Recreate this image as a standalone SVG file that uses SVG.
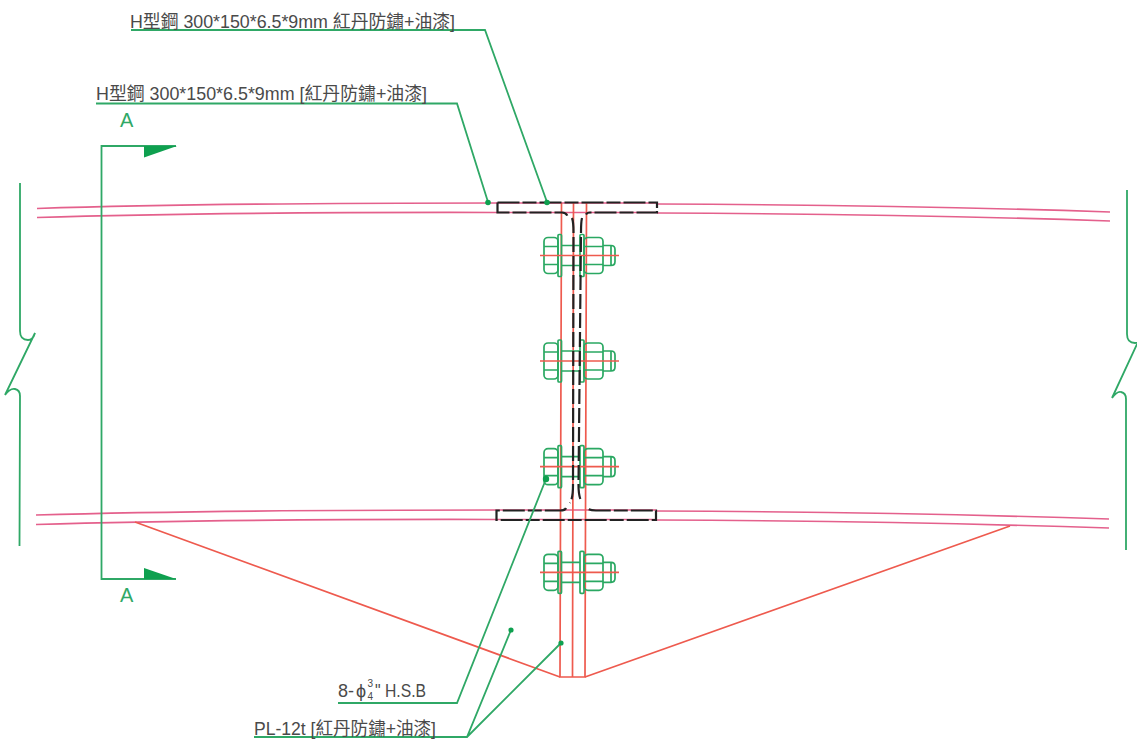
<svg xmlns="http://www.w3.org/2000/svg" width="1137" height="748" viewBox="0 0 1137 748">
<defs>
<style>
.g{fill:none;stroke:#2fa866;stroke-width:1.8}
.gt{fill:none;stroke:#2aa862;stroke-width:1.7;stroke-linejoin:round}
.r{fill:none;stroke:#ee5a4e;stroke-width:1.7}
.p{fill:none;stroke:#e4608c;stroke-width:1.7}
.k{fill:none;stroke:#222;stroke-width:2.2}
.d{stroke-dasharray:22 3 14 3}
.wd{stroke-dasharray:15 4}
.t{font-family:"Liberation Sans","Noto Sans CJK TC",sans-serif;font-size:18px;fill:#4a4a4a}
.s{font-size:10px}
.a{font-family:"Liberation Sans",sans-serif;font-size:20px;fill:#2fa866}
.dot{fill:#0ea04f}
.w{fill:#0ea04f}
</style>
<g id="bolt">
<rect class="gt" x="544" y="-18" width="14" height="36" rx="4"/>
<path class="gt" d="M544-9H558M544 9H558"/>
<rect class="gt" x="558" y="-21" width="3.500" height="42" rx="1"/>
<path class="gt" d="M561.500-10H580M561.500 10H580"/>
<rect class="gt" x="580" y="-21" width="4" height="42" rx="1"/>
<rect class="gt" x="584" y="-18" width="19" height="36" rx="4"/>
<path class="gt" d="M584-9H603M584 9H603"/>
<path class="gt" d="M603-10H611Q615-10 615-6V6Q615 10 611 10H603M611-10V10"/>
<path class="r" d="M540 0H619"/>
</g>
</defs>
<rect width="1137" height="748" fill="#fff"/>
<g id="beam-top">
<path class="p" d="M37 208.500Q210 203 497 203M37 217.500Q210 212 497 212.500"/>
<path class="p" d="M657 204Q900 205 1110 212M657 213Q900 214 1110 221"/>
<path class="p" d="M497 203H657M497 212.500H657"/>
</g>
<g id="beam-bottom">
<path class="p" d="M36 515Q210 510 496 510M36 524.500Q210 519 496 519.500"/>
<path class="p" d="M656 511Q900 512 1109 519M656 520Q900 521 1109 528"/>
<path class="p" d="M496 510H656M496 519.500H656"/>
</g>
<g id="plate">
<path class="r" d="M561.500 203 560 677H585L586.500 203M573.500 203 572.500 677"/>
<path class="r" d="M135 522 560 677M1010 526 585 677"/>
</g>
<g id="bolt-1"><use href="#bolt" y="255.500"/></g>
<g id="bolt-2"><use href="#bolt" y="361"/></g>
<g id="bolt-3"><use href="#bolt" y="466.700"/></g>
<g id="bolt-4"><use href="#bolt" y="572.300"/></g>
<g id="h-section">
<path class="k d" d="M497.500 202.500H657V212.500H590Q587 212.500 586 214.500M497.500 202.500V212.500H562Q566 212.500 567.500 216"/>
<path class="k d" d="M566 508Q565 510.500 560 510.500H496.500V520H656V510.500H596Q589 510.500 587 508"/>
<path class="k wd" d="M572 218Q573.500 222 573.500 232L573 485Q573 498 570 503"/>
<path class="k wd" d="M582 218Q581 222 581 232L578.500 485Q578.500 496 581.500 502"/>
</g>
<g id="section-a">
<path class="g" d="M176 146H101.500V579H176"/>
<path class="w" d="M144 146H177L144 157.500Z"/>
<path class="w" d="M144 568 176 579H144Z"/>
<text class="a" x="120" y="127">A</text>
<text class="a" x="120" y="602">A</text>
</g>
<g id="break-left"><path class="g" d="M20 183V331Q20 340 28 340Q33 340 35 333L5 395Q10 388 15 389Q20 390 20 396L19.500 546"/></g>
<g id="break-right"><path class="g" d="M1127 190V334Q1127 343 1135 343Q1137 343 1138 342L1112 398Q1117 391 1121 392Q1126 393 1126 399V550"/></g>
<g id="connectors">
<path class="g" d="M131 30H485L547 202"/>
<path class="g" d="M96 103.500H457L488 202"/>
<path class="g" d="M338 703H457L546 479"/>
<path class="g" d="M254 737H467L511 630M467 737 561 643"/>
<circle class="dot" cx="488" cy="202.500" r="2.800"/>
<circle class="dot" cx="547" cy="202.500" r="2.800"/>
<circle class="dot" cx="546" cy="479" r="3.200"/>
<circle class="dot" cx="511" cy="630" r="2.600"/>
<circle class="dot" cx="561" cy="643" r="2.600"/>
</g>
<g id="labels">
<text class="t" x="130" y="28" textLength="325" lengthAdjust="spacingAndGlyphs">H型鋼 300*150*6.5*9mm 紅丹防鏽+油漆]</text>
<text class="t" x="96" y="100" textLength="331" lengthAdjust="spacingAndGlyphs">H型鋼 300*150*6.5*9mm [紅丹防鏽+油漆]</text>
<text class="t" x="338" y="697">8-<tspan dx="2">ϕ</tspan></text>
<text class="t s" x="367.500" y="687">3</text>
<text class="t s" x="367.500" y="700">4</text>
<text class="t" x="375" y="697" textLength="51" lengthAdjust="spacingAndGlyphs">" H.S.B</text>
<text class="t" x="254" y="735" textLength="182" lengthAdjust="spacingAndGlyphs">PL-12t [紅丹防鏽+油漆]</text>
</g>
</svg>
